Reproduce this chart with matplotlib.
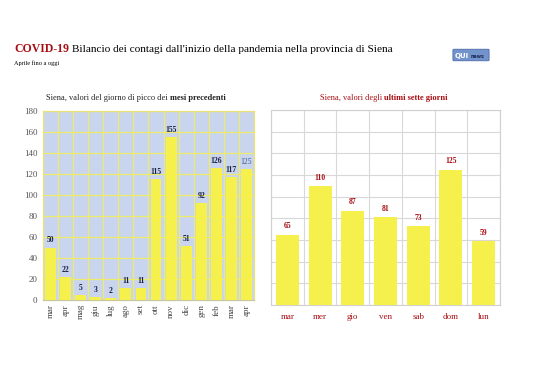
import numpy as np
import matplotlib.pyplot as plt
from matplotlib.patches import FancyBboxPatch

plt.rcParams['font.family'] = ['Liberation Serif', 'DejaVu Serif']

# data
months = ['mar', 'apr', 'mag', 'giu', 'lug', 'ago', 'set', 'ott', 'nov',
          'dic', 'gen', 'feb', 'mar', 'apr']
month_peaks = [50, 22, 5, 3, 2, 11, 11, 115, 155, 51, 92, 126, 117, 125]
days = ['mar', 'mer', 'gio', 'ven', 'sab', 'dom', 'lun']
day_values = [65, 110, 87, 81, 73, 125, 59]

yellow = '#f5f04c'
darkred = '#a80d12'
navy = '#1a2040'

fig = plt.figure(figsize=(5.38, 3.80), dpi=100)
W, H = 538, 380

def axes_px(x0, y0, x1, y1):
    return fig.add_axes([x0 / W, 1 - y1 / H, (x1 - x0) / W, (y1 - y0) / H])

# titles
fig.text(14 / W, 1 - 52 / H, 'COVID-19', color=darkred, fontsize=8.5,
         fontweight='bold', va='baseline')
fig.text(72 / W, 1 - 52 / H, 'Bilancio dei contagi dall\'inizio della pandemia nella provincia di Siena',
         color='black', fontsize=8.1, va='baseline')
fig.text(14 / W, 1 - 65 / H, 'Aprile fino a oggi', fontsize=4.5, va='baseline')

# logo
logo = FancyBboxPatch((454 / W, 1 - 60 / H), 34 / W, 10 / H,
                      boxstyle='round,pad=0.002', transform=fig.transFigure,
                      facecolor='#7393cc', edgecolor='#4a6aa8', lw=0.6)
fig.patches.append(logo)
fig.text(455 / W, 1 - 58 / H, 'QUI', color='white', fontsize=5,
         fontweight='bold', family='DejaVu Sans', va='baseline')
fig.text(470.5 / W, 1 - 58 / H, 'news', color='#1b2b55', fontsize=3.4,
         fontweight='bold', family='DejaVu Sans', va='baseline')

# left chart: monthly peaks
ax1 = axes_px(43, 111, 254, 300)
x = np.arange(len(months))
ax1.set_facecolor('#c9d5ef')
ax1.bar(x, month_peaks, width=0.72, color=yellow, zorder=3)
ax1.set_xlim(-0.5, len(months) - 0.5)
ax1.set_ylim(0, 180)
ax1.set_yticks(np.arange(0, 181, 20))
ax1.set_xticks(x)
ax1.set_xticklabels(months, rotation=90, fontsize=6.5, color='#444444')
ax1.set_xticks(np.arange(-0.5, len(months)), minor=True)
ax1.tick_params(axis='y', labelsize=6.5, labelcolor='#555555', length=0, pad=4)
ax1.tick_params(axis='x', which='both', length=0, pad=3)
ax1.grid(which='minor', axis='x', color='#eeea6a', lw=0.9, zorder=1)
ax1.grid(which='major', axis='y', color='#eeea6a', lw=0.9, zorder=1)
for s in ax1.spines.values():
    s.set_color('#e8e47a')
    s.set_linewidth(0.9)
ax1.spines['bottom'].set_color('#c8c8a0')
for i, v in enumerate(month_peaks):
    last = i == len(month_peaks) - 1
    ax1.text(i, v + 3, str(v), ha='center', va='bottom', fontsize=5.5,
             fontweight='normal' if last else 'bold',
             color='#3c5a90' if last else navy, zorder=4)
fig.text(170 / W, 1 - 100 / H, 'Siena, valori del giorno di picco dei ',
         fontsize=6, ha='right', va='baseline', color='#222222')
fig.text(170 / W, 1 - 100 / H, 'mesi precedenti', fontsize=6,
         fontweight='bold', ha='left', va='baseline', color='#222222')

# right chart: last seven days
ax2 = axes_px(271, 110, 500, 305)
xd = np.arange(len(days))
ax2.bar(xd, day_values, width=0.7, color=yellow, zorder=3)
ax2.set_xlim(-0.5, len(days) - 0.5)
ax2.set_ylim(0, 180)
ax2.set_yticks(np.arange(0, 181, 20))
ax2.set_yticklabels([])
ax2.set_xticks(xd)
ax2.set_xticklabels(days, fontsize=6.5, color=darkred)
ax2.set_xticks(np.arange(-0.5, len(days)), minor=True)
ax2.tick_params(axis='both', which='both', length=0)
ax2.tick_params(axis='x', pad=6)
ax2.grid(which='minor', axis='x', color='#d8d8d8', lw=0.8, zorder=1)
ax2.grid(which='major', axis='y', color='#d8d8d8', lw=0.8, zorder=1)
for s in ax2.spines.values():
    s.set_color('#d0d0d0')
    s.set_linewidth(0.8)
for i, v in enumerate(day_values):
    ax2.text(i, v + 4, str(v), ha='center', va='bottom', fontsize=5.5,
             fontweight='bold', color=darkred, zorder=4)
fig.text(384 / W, 1 - 100 / H, 'Siena, valori degli ', fontsize=6,
         ha='right', va='baseline', color=darkred)
fig.text(384 / W, 1 - 100 / H, 'ultimi sette giorni', fontsize=6,
         fontweight='bold', ha='left', va='baseline', color=darkred)

fig.savefig('out.png', dpi=100)
